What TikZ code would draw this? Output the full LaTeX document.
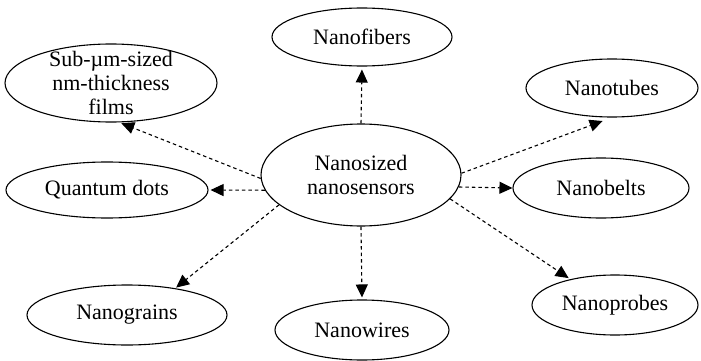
\documentclass[tikz,border=0pt]{standalone}
\usepackage{fontspec}
\setmainfont{Liberation Serif}
\usetikzlibrary{shapes.geometric,arrows.meta}
\begin{document}
\begin{tikzpicture}[x=1pt,y=-1pt,
  blob/.style={ellipse,draw,line width=1.1pt,inner sep=0pt,align=center,
    font=\fontsize{22}{24}\selectfont},
  link/.style={line width=1.1pt,dash pattern=on 3.5pt off 3pt,
    -{Triangle[length=13pt,width=12pt]}}]
\useasboundingbox (0,0) rectangle (701,361);

% hub
\node[blob,minimum width=200pt,minimum height=102pt] (c) at (361,175) {Nanosized\\nanosensors};

% surrounding ellipses
\node[blob,minimum width=180pt,minimum height=58pt] (fib) at (362,37) {Nanofibers};
\node[blob,inner ysep=-14pt,minimum width=212pt,minimum height=78pt] (sub) at (111,83) {Sub-µm-sized\\nm-thickness\\films};
\node[blob,minimum width=172pt,minimum height=58pt] (tubes) at (612,88) {Nanotubes};
\node[blob,minimum width=202pt,minimum height=56pt] (qd) at (107,190) {Quantum dots};
\node[blob,minimum width=176pt,minimum height=60pt] (belts) at (601,188) {Nanobelts};
\node[blob,minimum width=200pt,minimum height=60pt] (grains) at (127,315) {Nanograins};
\node[blob,minimum width=174pt,minimum height=60pt] (wires) at (362,330) {Nanowires};
\node[blob,minimum width=166pt,minimum height=60pt] (probes) at (615,305) {Nanoprobes};

% dashed arrows from the hub
\draw[link,shorten >=3pt] (c.north) -- (fib.south);
\draw[link,shorten >=2pt] (c.182) -- (sub.-78);
\draw[link,shorten >=2pt] (c.189) -- (qd.east);
\draw[link,shorten >=1pt] (c.200) -- (grains.29);
\draw[link,shorten >=2pt] (c.south) -- (wires.north);
\draw[link,shorten >=10pt] (c.1) -- (tubes.south);
\draw[link] (c.-7) -- (belts.west);
\draw[link,shorten >=2pt] (c.-15) -- (probes.150);
\end{tikzpicture}
\end{document}
